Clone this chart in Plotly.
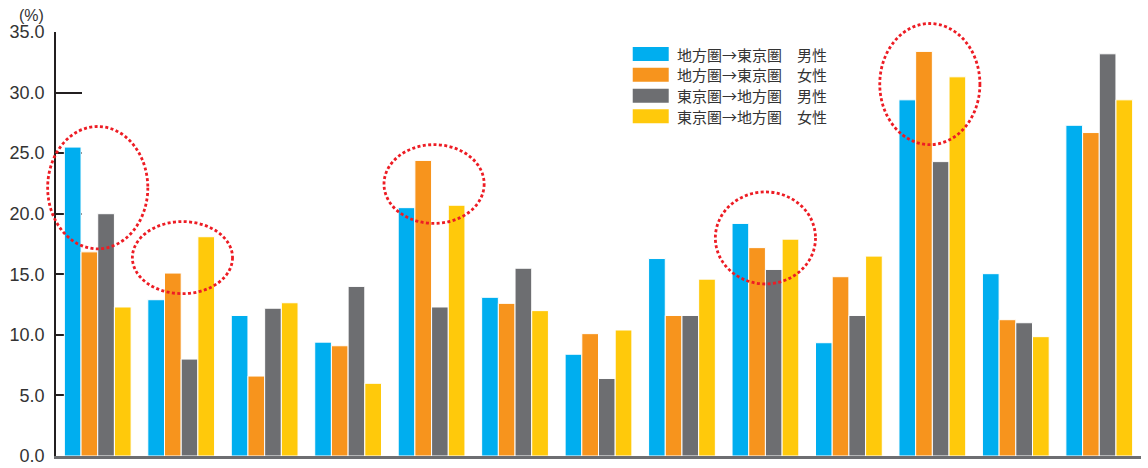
import plotly.graph_objects as go

categories = [str(i) for i in range(1, 14)]
series_names = [
    "地方圏→東京圏　男性",
    "地方圏→東京圏　女性",
    "東京圏→地方圏　男性",
    "東京圏→地方圏　女性",
]
local_to_tokyo_male = [25.5, 12.9, 11.6, 9.4, 20.5, 13.1, 8.4, 16.3, 19.2, 9.35, 29.4, 15.05, 27.3]
local_to_tokyo_female = [16.85, 15.1, 6.6, 9.1, 24.4, 12.6, 10.1, 11.6, 17.2, 14.8, 33.4, 11.25, 26.7]
tokyo_to_local_male = [20.0, 8.0, 12.2, 14.0, 12.3, 15.5, 6.4, 11.6, 15.4, 11.6, 24.3, 11.0, 33.2]
tokyo_to_local_female = [12.3, 18.1, 12.65, 6.0, 20.7, 12.0, 10.4, 14.6, 17.9, 16.5, 31.3, 9.85, 29.4]
y_ticks = [0, 5, 10, 15, 20, 25, 30, 35]

colors = ["#00AEEF", "#F7941D", "#6D6E71", "#FFC90B"]
series = [local_to_tokyo_male, local_to_tokyo_female, tokyo_to_local_male, tokyo_to_local_female]

# highlighted groups: (category index, y bottom, y top) in data units
highlights = [(0, 17.1, 27.2), (1.015, 13.4, 19.35), (4.03, 19.2, 25.7), (8.0, 14.2, 21.8), (9.97, 25.7, 35.7)]

YMAX = 35
N = len(categories)

fig = go.Figure()
for name, vals, col in zip(series_names, series, colors):
    fig.add_trace(go.Bar(
        x=categories, y=vals, name=name,
        marker=dict(color=col, line=dict(color="white", width=1)),
        showlegend=False,
    ))

shapes = []
for ci, y0, y1 in highlights:
    xc = (ci + 0.5) / N
    shapes.append(dict(
        type="circle", xref="paper", yref="paper",
        x0=xc - 0.6 / N, x1=xc + 0.6 / N, y0=y0 / YMAX, y1=y1 / YMAX,
        line=dict(color="#ED1C24", width=2.8, dash="3px,2.4px"),
        layer="above",
    ))

# custom legend (pixel helpers for plot area 56..1141.5 x, 32..456 y)
PX0, PW, PY0, PH = 56, 1085.5, 456, 424
def px(x):
    return (x - PX0) / PW
def py(y):
    return (PY0 - y) / PH

annotations = []
row_centers = [54, 74.7, 95.7, 116.3]
for name, col, rc in zip(series_names, colors, row_centers):
    shapes.append(dict(type="rect", xref="paper", yref="paper",
                       x0=px(633), x1=px(669), y0=py(rc + 7), y1=py(rc - 7),
                       fillcolor=col, line=dict(width=0)))
    annotations.append(dict(xref="paper", yref="paper", x=px(675), y=py(rc),
                            text=name, showarrow=False, xanchor="left", yanchor="middle",
                            font=dict(family="Noto Sans CJK JP", size=15, color="#333333")))

annotations.append(dict(xref="paper", yref="paper", x=px(31), y=py(15),
                        text="(%)", showarrow=False, xanchor="center", yanchor="middle",
                        font=dict(family="Liberation Sans", size=16, color="#333333")))

fig.update_layout(
    width=1148, height=468,
    margin=dict(l=56, r=7, t=32, b=12, autoexpand=False),
    paper_bgcolor="white", plot_bgcolor="white",
    barmode="group", bargap=0.2, bargroupgap=0,
    shapes=shapes, annotations=annotations,
    showlegend=False,
)
fig.update_yaxes(
    range=[0, YMAX], tickvals=y_ticks, tickformat=".1f",
    showgrid=False, zeroline=False, automargin=False,
    showline=True, linecolor="#231F20", linewidth=1.5,
    ticks="inside", ticklen=26, tickwidth=1.5, tickcolor="#231F20",
    tickfont=dict(family="Liberation Sans", size=18, color="#333333"),
    ticklabelstandoff=6,
    layer="below traces",
)
fig.update_xaxes(
    showgrid=False, showline=True, linecolor="#6D6E71", linewidth=2.5,
    ticks="inside", ticklen=4, tickwidth=2, tickcolor="#231F20",
    showticklabels=False, automargin=False,
    layer="below traces",
)

fig.write_html(
    "out.html",
    config={"displayModeBar": False},
    post_script="document.body.style.margin='0';document.body.style.overflow='hidden';",
)
